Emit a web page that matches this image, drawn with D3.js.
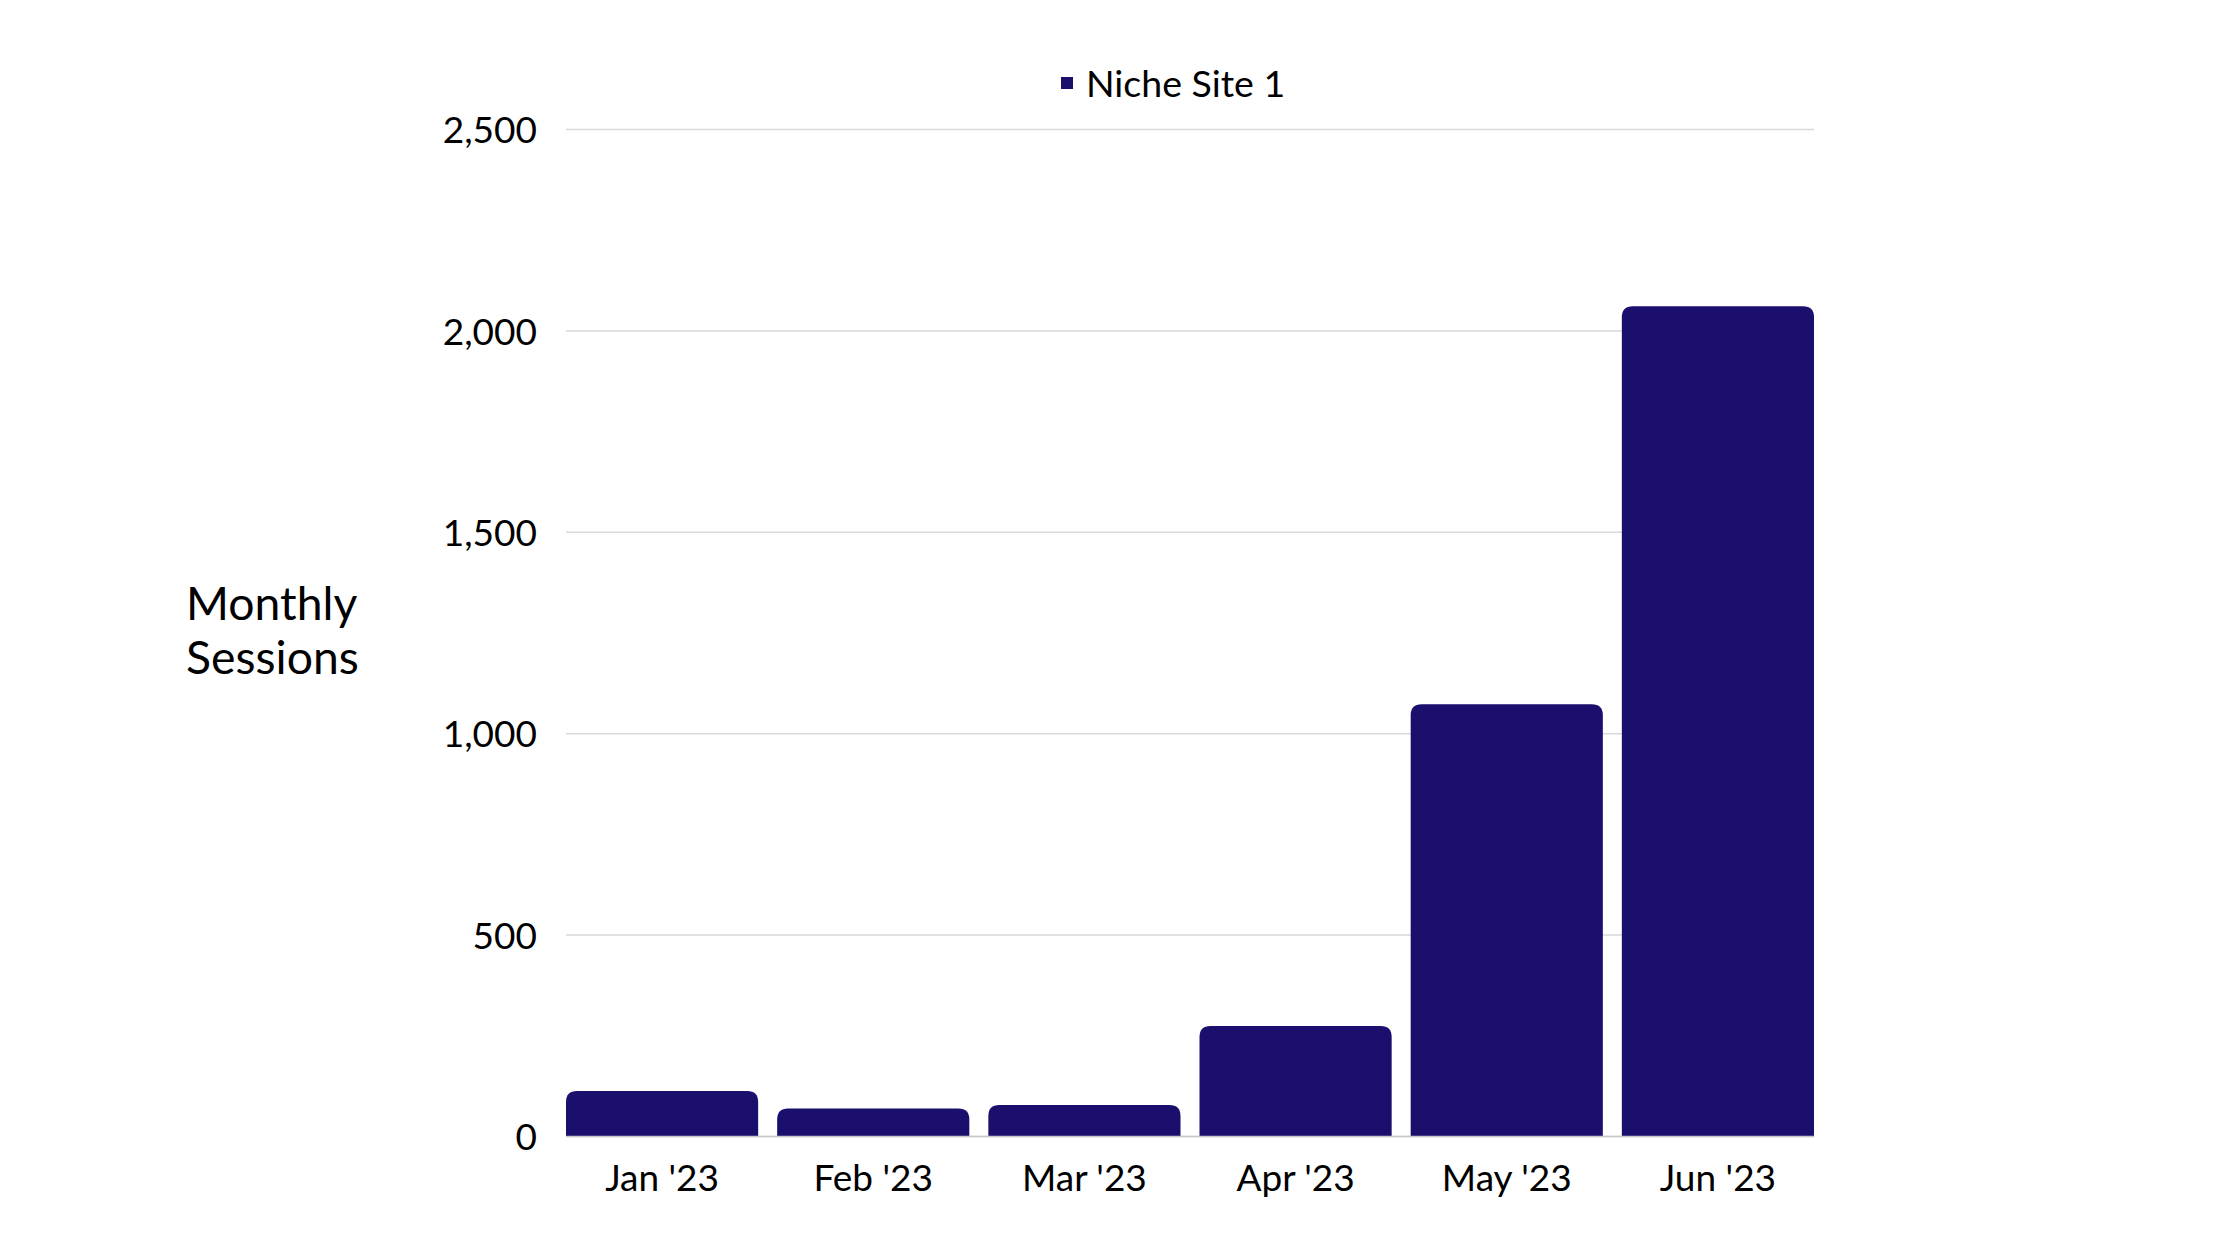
<!DOCTYPE html>
<html>
<head>
<meta charset="utf-8">
<script src="https://cdn.jsdelivr.net/npm/d3@7"></script>
<style>
  html, body { margin: 0; padding: 0; background: #fff; }
  svg { display: block; font-family: Lato, "Open Sans", sans-serif; }
</style>
</head>
<body>
<svg id="chart" width="2240" height="1260"></svg>
<script>
const categories = ["Jan '23", "Feb '23", "Mar '23", "Apr '23", "May '23", "Jun '23"];
const seriesName = "Niche Site 1";
const sessions = [112, 68, 77, 273, 1072, 2060];
const yTicks = [0, 500, 1000, 1500, 2000, 2500];
const yTitle = ["Monthly", "Sessions"];

const W = 2240, H = 1260;
const margin = { left: 566, right: W - 1814, top: 129, bottom: H - 1136 };
const barColor = "#1b0f6e";

const svg = d3.select("#chart");

const x = d3.scaleBand()
  .domain(categories)
  .range([margin.left, W - margin.right])
  .paddingInner(0.09)
  .paddingOuter(0);

const y = d3.scaleLinear()
  .domain([0, 2500])
  .range([H - margin.bottom, margin.top]);

// gridlines
const yAxis = d3.axisLeft(y)
  .tickValues(yTicks)
  .tickFormat(d3.format(","))
  .tickSize(-(W - margin.left - margin.right))
  .tickPadding(29);

const gy = svg.append("g")
  .attr("transform", `translate(${margin.left},0)`)
  .call(yAxis);
gy.select(".domain").remove();
gy.selectAll(".tick line").attr("stroke", "#d9d9d9").attr("stroke-width", 1.5);
gy.selectAll(".tick text")
  .attr("font-size", 37)
  .attr("dy", "0.37em")
  .attr("fill", "#000")
  .attr("font-family", "Lato, sans-serif");

// bars with rounded top corners
function barPath(x0, y0, w, h, r) {
  r = Math.min(r, h, w / 2);
  return `M${x0},${y0 + h}V${y0 + r}Q${x0},${y0} ${x0 + r},${y0}H${x0 + w - r}Q${x0 + w},${y0} ${x0 + w},${y0 + r}V${y0 + h}Z`;
}

svg.append("g").selectAll("path")
  .data(categories.map((c, i) => ({ c, v: sessions[i] })))
  .join("path")
  .attr("fill", barColor)
  .attr("d", d => barPath(x(d.c), y(d.v), x.bandwidth(), y(0) - y(d.v), 11));

// x axis
const xAxis = d3.axisBottom(x).tickSize(0).tickPadding(29);
const gx = svg.append("g")
  .attr("transform", `translate(0,${y(0)})`)
  .call(xAxis);
gx.select(".domain").attr("stroke", "#c8c8c8").attr("stroke-width", 1.5);
gx.selectAll(".tick text")
  .attr("font-size", 37)
  .attr("fill", "#000")
  .attr("font-family", "Lato, sans-serif");

// y title
const yt = svg.append("text")
  .attr("x", 186)
  .attr("y", 620)
  .attr("font-size", 46.3)
  .attr("fill", "#000");
yTitle.forEach((t, i) => {
  yt.append("tspan").attr("x", 186).attr("dy", i === 0 ? 0 : 54).text(t);
});

// legend
const lg = svg.append("g");
lg.append("rect")
  .attr("x", 1061).attr("y", 77)
  .attr("width", 12).attr("height", 12)
  .attr("fill", barColor);
lg.append("text")
  .attr("x", 1086).attr("y", 97)
  .attr("font-size", 37.5)
  .attr("fill", "#000")
  .text(seriesName);
</script>
</body>
</html>
